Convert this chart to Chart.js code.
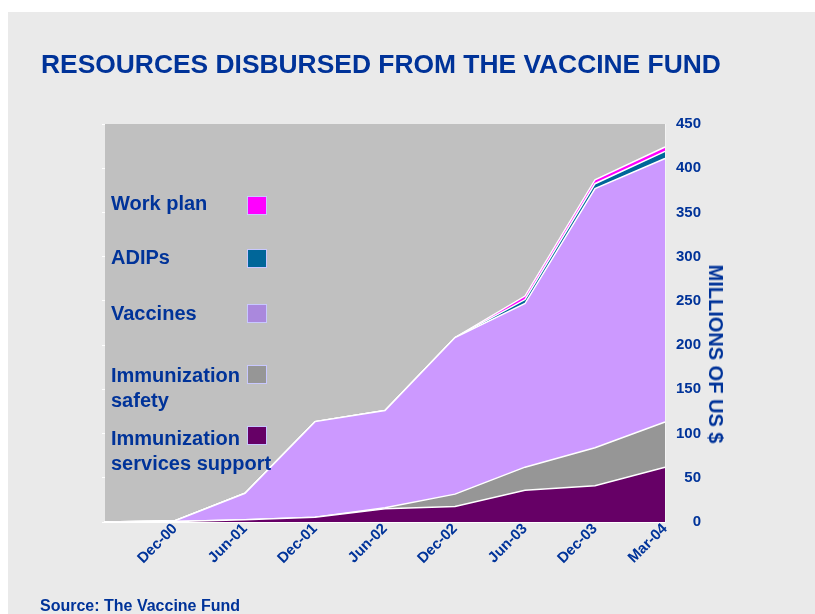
<!DOCTYPE html>
<html><head><meta charset="UTF-8"><title>Vaccine Fund</title>
<script src="https://cdn.jsdelivr.net/npm/chart.js"></script>
<style>
  body { margin: 0; background: #fff; font-family: "Liberation Sans", Arial, sans-serif; }
  #page { position: relative; width: 815px; height: 614px; overflow: hidden; }
  #panel { position: absolute; left: 8px; top: 12px; right: 0; bottom: 0; background: #eaeaea; }
  #chart { position: absolute; left: 0; top: 0; }
  .txt { position: absolute; color: #003399; font-weight: bold; white-space: nowrap; }
  #title { left: 41px; top: 51px; font-size: 26.4px; line-height: 26px; }
  #source { left: 40px; top: 598px; font-size: 16px; line-height: 16px; }
  #ytitle { left: 716px; top: 354px; font-size: 20px; line-height: 20px; transform: translate(-50%,-50%) rotate(90deg); }
  .lg { left: 111px; font-size: 20px; line-height: 25px; }
  .sw { position: absolute; left: 247px; width: 18px; height: 17px; border: 1px solid #c8c8ff; }
</style></head>
<body>
<div id="page">
  <div id="panel"></div>
  <canvas id="chart" width="815" height="614"></canvas>
  <div id="title" class="txt">RESOURCES DISBURSED FROM THE VACCINE FUND</div>
  <div id="ytitle" class="txt">MILLIONS OF US $</div>
  <div id="legend"></div>
  <div id="source" class="txt">Source: The Vaccine Fund</div>
</div>
<script>
// periods (first point has no label)
const periods = ['', 'Dec-00', 'Jun-01', 'Dec-01', 'Jun-02', 'Dec-02', 'Jun-03', 'Dec-03', 'Mar-04'];

// millions of US $, per category (stacked)
const servicesSupport = [0, 0.5, 2.5, 5.5, 15, 17.5, 36, 41, 62];
const safety          = [0, 0, 0, 0, 1, 14, 26, 43, 51];
const vaccines        = [0, 1, 30, 108, 110, 177, 185, 293, 298];
const adips           = [0, 0, 0, 0, 0, 0, 4.5, 5.5, 8];
const workPlan        = [0, 0, 0, 0, 0, 0, 4, 4.5, 5];

const yTicks = [0, 50, 100, 150, 200, 250, 300, 350, 400, 450];

const legendNames = [['Work plan'], ['ADIPs'], ['Vaccines'], ['Immunization', 'safety'], ['Immunization', 'services support']];

// --- styling ---
const BLUE = '#003399';
const FONT = '"Liberation Sans", Arial, sans-serif';
const series = [
  { label: 'Immunization services support', data: servicesSupport, color: '#660066', swatch: '#660066' },
  { label: 'Immunization safety', data: safety, color: '#969696', swatch: '#969696' },
  { label: 'Vaccines', data: vaccines, color: '#cc99ff', swatch: '#aa88dd' },
  { label: 'ADIPs', data: adips, color: '#006699', swatch: '#006699' },
  { label: 'Work plan', data: workPlan, color: '#ff00ff', swatch: '#ff00ff' }
];

// legend (top of list = top series)
const legendTop = [191, 245, 301, 363, 426];
const swatchTop = [196, 249, 304, 365, 426];
const lg = document.getElementById('legend');
legendNames.forEach((lines, i) => {
  const s = series[series.length - 1 - i];
  const t = document.createElement('div');
  t.className = 'txt lg';
  t.style.top = legendTop[i] + 'px';
  t.innerHTML = lines.join('<br>');
  lg.appendChild(t);
  const b = document.createElement('div');
  b.className = 'sw';
  b.style.top = swatchTop[i] + 'px';
  b.style.background = s.swatch;
  lg.appendChild(b);
});

const plotBg = {
  id: 'plotBg',
  beforeDraw(c) {
    const { ctx, chartArea: a } = c;
    ctx.save();
    ctx.fillStyle = '#c0c0c0';
    ctx.fillRect(a.left, a.top, a.right - a.left, a.bottom - a.top);
    ctx.restore();
  }
};

new Chart(document.getElementById('chart'), {
  type: 'line',
  data: {
    labels: periods,
    datasets: series.map((s, i) => ({
      label: s.label,
      data: s.data,
      backgroundColor: s.color,
      borderColor: '#ffffff',
      borderWidth: 1.5,
      pointRadius: 0,
      tension: 0,
      fill: i === 0 ? 'origin' : '-1'
    }))
  },
  options: {
    responsive: false,
    animation: false,
    devicePixelRatio: 1,
    layout: { padding: { left: 100, top: 124, right: 114, bottom: 0 } },
    plugins: { legend: { display: false }, tooltip: { enabled: false } },
    scales: {
      x: {
        offset: false,
        grid: { display: false, drawTicks: false },
        border: { display: true, color: '#ffffff', width: 2 },
        ticks: {
          autoSkip: false, minRotation: 45, maxRotation: 45, padding: -2,
          color: BLUE, font: { family: FONT, size: 15, weight: 'bold' }
        },
        afterFit(s) { s.height = 92; }
      },
      y: {
        position: 'right',
        stacked: true,
        min: 0, max: 450,
        afterBuildTicks(s) { s.ticks = yTicks.map(v => ({ value: v })); },
        grid: { display: false, drawTicks: false },
        border: { display: true, color: '#f4f4f4', width: 1 },
        ticks: {
          crossAlign: 'far', padding: 0,
          color: BLUE, font: { family: FONT, size: 15, weight: 'bold' }
        },
        afterFit(s) { s.width = 36; }
      },
      yl: {
        position: 'left',
        min: 0, max: 450,
        afterBuildTicks(s) { s.ticks = yTicks.map(v => ({ value: v })); },
        grid: { display: true, drawOnChartArea: false, color: '#ffffff', tickLength: 3 },
        border: { display: false },
        ticks: { display: false },
        afterFit(s) { s.width = 5; }
      }
    }
  },
  plugins: [plotBg]
});
</script>
</body></html>
